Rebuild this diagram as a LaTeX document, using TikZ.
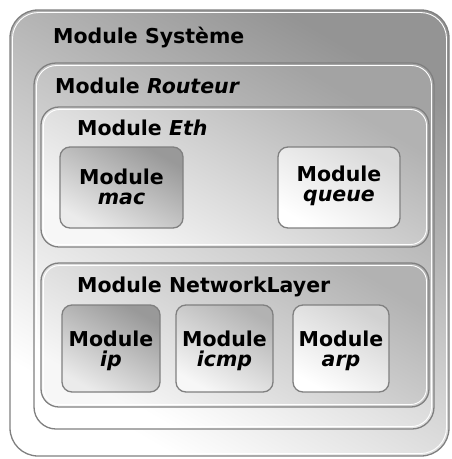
\documentclass[tikz,border=0pt]{standalone}
\usepackage{fontspec}
\newfontfamily\lab{DejaVu Sans}
\begin{document}
\begin{tikzpicture}[x=1pt,y=-1pt,
  box/.style={draw=black!50,line width=1.3pt,rounded corners=#1},
  box/.default=18pt,
  grad/.style 2 args={top color=#1,bottom color=#2,shading angle=-30},
  hl/.style={white,line width=0.9pt,rounded corners=#1},
  ttl/.style={anchor=base west,font=\lab\bfseries\fontsize{20.5}{22}\selectfont,inner sep=0pt},
  mod/.style={align=center,font=\lab\bfseries\fontsize{20.5}{22}\selectfont,inner sep=0pt}]
\useasboundingbox (0,0) rectangle (451,459);
\fill[white] (0,0) rectangle (451,459);
% outer system
\draw[box=28pt,grad={black!42}{white}] (10,10) rectangle (449,456);
\draw[hl=26pt] (12.5,12.5) rectangle (446.5,453.5);
\node[ttl] (tsys) at (53,43) {Module Système};
% router
\draw[box=22pt,grad={black!36}{white}] (34,63) rectangle (434,429);
\draw[hl=20pt] (36.5,65.5) rectangle (431.5,426.5);
\node[ttl] (trout) at (55,93) {Module \itshape Routeur};
% eth
\draw[box=18pt,grad={black!30}{black!3}] (41,107) rectangle (429,247);
\draw[hl=16pt] (43.5,109.5) rectangle (426.5,244.5);
\node[ttl] (teth) at (77,135) {Module \itshape Eth};
\draw[box=10pt,grad={black!40}{black!8}] (60,147) rectangle (183,228);
\node[mod] (mac) at (121.5,187) {Module\\[-2pt]\itshape mac};
\draw[box=10pt,grad={black!15}{white}] (278,147) rectangle (400,228);
\node[mod] (queue) at (339,186) {Module\\[-2pt]\itshape queue};
% network layer
\draw[box=18pt,grad={black!30}{black!3}] (41,263) rectangle (429,407);
\draw[hl=16pt] (43.5,265.5) rectangle (426.5,404.5);
\node[ttl] (tnet) at (77,292) {Module NetworkLayer};
\draw[box=10pt,grad={black!40}{black!8}] (62,305) rectangle (160,392);
\node[mod] (ip) at (111,351) {Module\\[-2pt]\itshape ip};
\draw[box=10pt,grad={black!30}{black!3}] (176,305) rectangle (273,392);
\node[mod] (icmp) at (224.5,351) {Module\\[-2pt]\itshape icmp};
\draw[box=10pt,grad={black!18}{white}] (293,305) rectangle (389,392);
\node[mod] (arp) at (341,351) {Module\\[-2pt]\itshape arp};
\end{tikzpicture}
\end{document}
